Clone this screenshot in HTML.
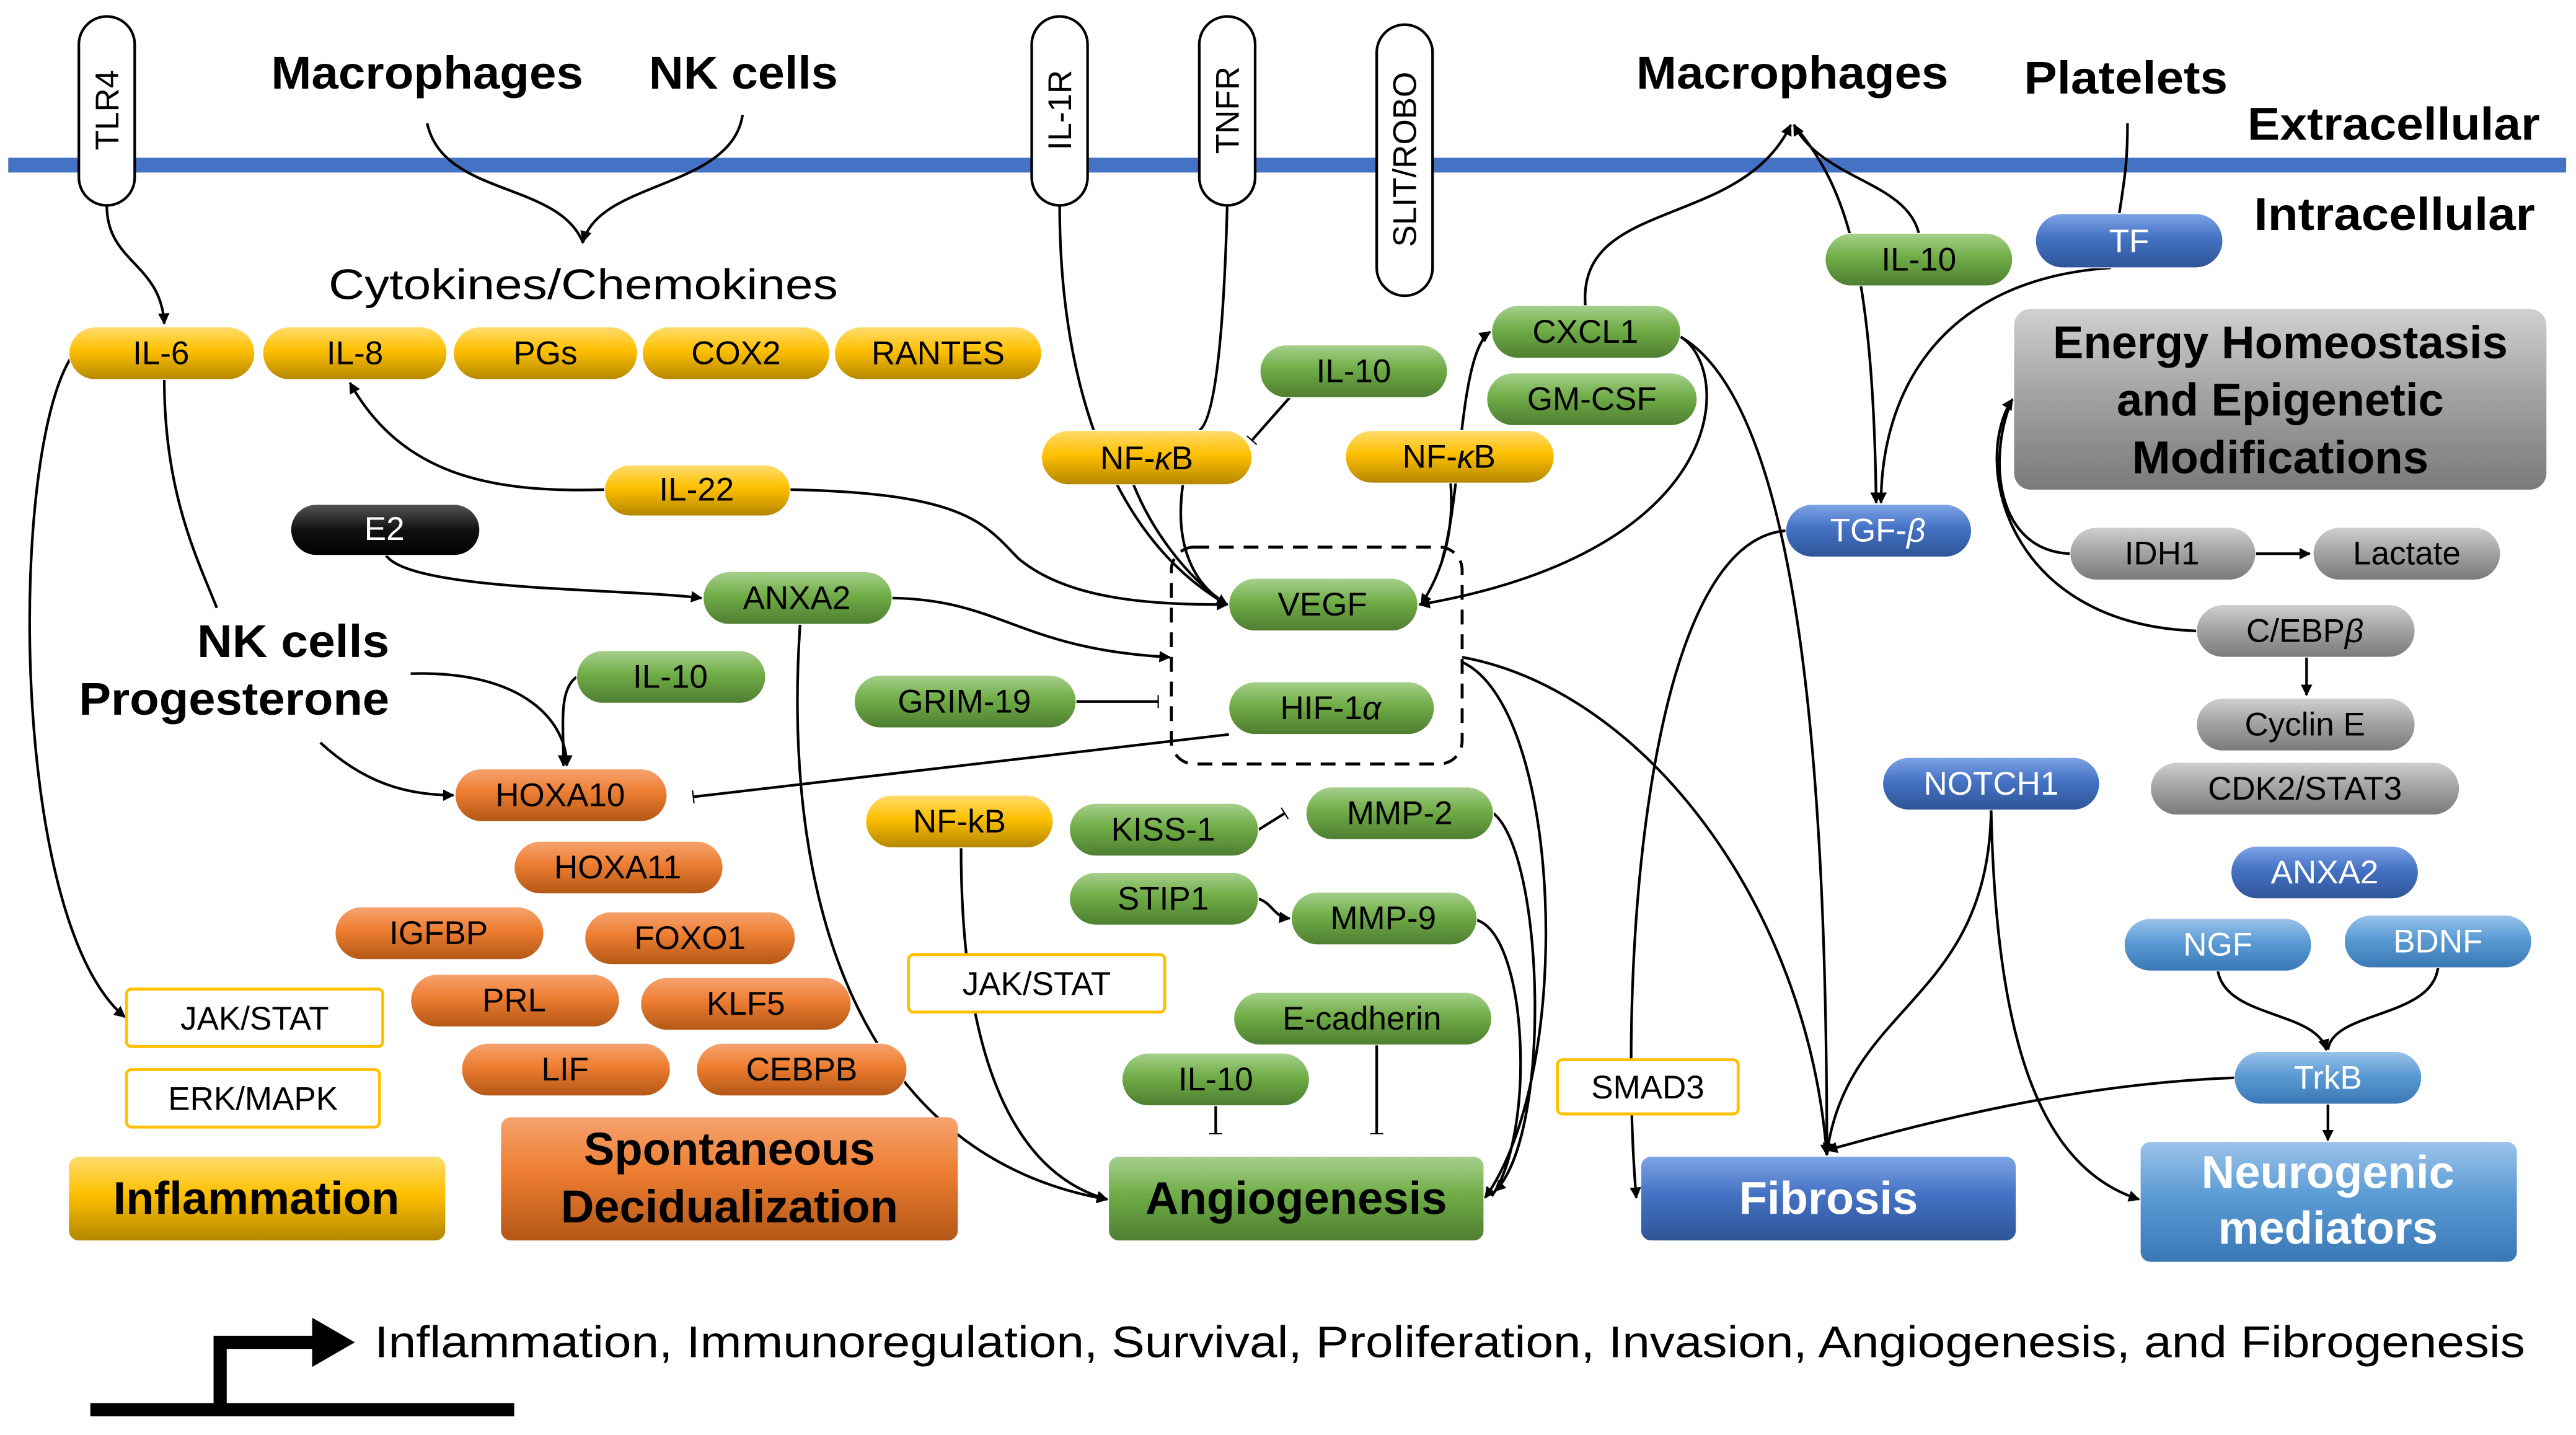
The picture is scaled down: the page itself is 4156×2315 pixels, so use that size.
<!DOCTYPE html>
<html><head><meta charset="utf-8"><style>
html,body{margin:0;padding:0;background:#fff;width:4156px;height:2315px;overflow:hidden}
svg{display:block}
text{font-family:"Liberation Sans",sans-serif}
.p{font-size:20px;text-anchor:middle;dominant-baseline:central}
.b{font-weight:bold;font-size:28px}
.l{fill:none;stroke:#000;stroke-width:1.6}
</style></head><body>
<svg width="4156" height="2315" viewBox="0 0 1568 873.4" xmlns="http://www.w3.org/2000/svg">
<defs>
<linearGradient id="gy" x1="0" y1="0" x2="0" y2="1"><stop offset="0" stop-color="#ffdc6e"/><stop offset=".45" stop-color="#ffc000"/><stop offset="1" stop-color="#b38600"/></linearGradient>
<linearGradient id="gg" x1="0" y1="0" x2="0" y2="1"><stop offset="0" stop-color="#a6d08c"/><stop offset=".45" stop-color="#70ad47"/><stop offset="1" stop-color="#4e7e31"/></linearGradient>
<linearGradient id="go" x1="0" y1="0" x2="0" y2="1"><stop offset="0" stop-color="#f6a36f"/><stop offset=".45" stop-color="#ed7d31"/><stop offset="1" stop-color="#b35716"/></linearGradient>
<linearGradient id="gb" x1="0" y1="0" x2="0" y2="1"><stop offset="0" stop-color="#7fa4e6"/><stop offset=".45" stop-color="#4472c4"/><stop offset="1" stop-color="#2f5597"/></linearGradient>
<linearGradient id="gl" x1="0" y1="0" x2="0" y2="1"><stop offset="0" stop-color="#9cc3ea"/><stop offset=".45" stop-color="#5b9bd5"/><stop offset="1" stop-color="#3a78b5"/></linearGradient>
<linearGradient id="gr" x1="0" y1="0" x2="0" y2="1"><stop offset="0" stop-color="#d0d0d0"/><stop offset=".45" stop-color="#a5a5a5"/><stop offset="1" stop-color="#7a7a7a"/></linearGradient>
<linearGradient id="gk" x1="0" y1="0" x2="0" y2="1"><stop offset="0" stop-color="#555"/><stop offset=".5" stop-color="#111"/><stop offset="1" stop-color="#000"/></linearGradient>
<marker id="a" viewBox="0 0 10 10" refX="9" refY="5" markerWidth="7" markerHeight="7" orient="auto" markerUnits="userSpaceOnUse"><path d="M0,0L10,5L0,10z"/></marker>
<marker id="t" viewBox="0 0 10 20" refX="5" refY="10" markerWidth="4" markerHeight="16" orient="auto" markerUnits="userSpaceOnUse"><path d="M5,0V20" stroke="#000" stroke-width="2"/></marker>
</defs>

<rect x="5" y="96" width="1557" height="9" fill="#4472c4"/>

<g fill="#fff" stroke="#000" stroke-width="1.6">
<rect x="48" y="10" width="34" height="115" rx="17"/>
<rect x="628" y="10" width="34" height="115" rx="17"/>
<rect x="730" y="10" width="34" height="115" rx="17"/>
<rect x="838" y="15" width="34" height="165" rx="17"/>
</g>
<g font-size="20" text-anchor="middle">
<text transform="translate(72,67) rotate(-90)">TLR4</text>
<text transform="translate(652,67) rotate(-90)">IL-1R</text>
<text transform="translate(754,67) rotate(-90)">TNFR</text>
<text transform="translate(862,97) rotate(-90)">SLIT/ROBO</text>
</g>

<text class="b" x="165" y="54" textLength="190" lengthAdjust="spacingAndGlyphs">Macrophages</text>
<text class="b" x="395" y="54" textLength="115" lengthAdjust="spacingAndGlyphs">NK cells</text>
<text class="b" x="996" y="54" textLength="190" lengthAdjust="spacingAndGlyphs">Macrophages</text>
<text class="b" x="1232" y="57" textLength="124" lengthAdjust="spacingAndGlyphs">Platelets</text>
<text class="b" x="1368" y="85" textLength="178" lengthAdjust="spacingAndGlyphs">Extracellular</text>
<text class="b" x="1372" y="140" textLength="171" lengthAdjust="spacingAndGlyphs">Intracellular</text>
<text x="200" y="182" font-size="26" textLength="310" lengthAdjust="spacingAndGlyphs">Cytokines/Chemokines</text>
<text class="b" x="120" y="400" textLength="117" lengthAdjust="spacingAndGlyphs">NK cells</text>
<text class="b" x="48" y="435" textLength="189" lengthAdjust="spacingAndGlyphs">Progesterone</text>

<g class="l">
<path d="M65,125 C65,160 98,160 100,197" marker-end="url(#a)"/>
<path d="M260,75 C270,120 340,110 355,148"/>
<path d="M452,70 C445,115 365,110 355,147" marker-end="url(#a)"/>
<path d="M45,215 C5,270 5,560 76,619" marker-end="url(#a)"/>
<path d="M100,231 C100,300 120,340 132,370"/>
<path d="M368,298 C300,300 245,290 213,233" marker-end="url(#a)"/>
<path d="M481,298 C590,300 600,320 620,340 C650,365 700,368 747,368" marker-end="url(#a)"/>
<path d="M235,338 C250,360 380,358 427,364" marker-end="url(#a)"/>
<path d="M543,364 C610,365 620,395 712,400" marker-end="url(#a)"/>
<path d="M487,380 C475,560 530,705 674,730" marker-end="url(#a)"/>
<path d="M250,410 C320,408 345,440 345,466" marker-end="url(#a)"/>
<path d="M351,412 C340,420 343,440 343,466" marker-end="url(#a)"/>
<path d="M195,452 C220,475 245,484 276,484" marker-end="url(#a)"/>
<path d="M748,447 L422,485" marker-end="url(#t)"/>
<path d="M655,427 L705,427" marker-end="url(#t)"/>
<path d="M645,125 C645,240 680,330 747,368" marker-end="url(#a)"/>
<path d="M747,125 C745,200 740,255 730,262"/>
<path d="M720,295 C715,330 725,355 747,368" marker-end="url(#a)"/>
<path d="M690,295 C700,320 720,350 747,368"/>
<path d="M785,242 L762,268" marker-end="url(#t)"/>
<path d="M878,340 C890,300 888,215 907,202" marker-end="url(#a)"/>
<path d="M883,294 C885,320 880,345 865,368" marker-end="url(#a)"/>
<path d="M1023,205 C1055,225 1055,335 864,368" marker-end="url(#a)"/>
<path d="M1023,205 C1100,250 1112,500 1112,703" marker-end="url(#a)"/>
<path d="M965,186 C960,120 1060,140 1090,76" marker-end="url(#a)"/>
<path d="M1168,142 C1160,110 1110,110 1092,76" marker-end="url(#a)"/>
<path d="M1092,76 C1120,110 1140,150 1142,306" marker-end="url(#a)"/>
<path d="M1295,75 C1295,100 1293,110 1290,130"/>
<path d="M1285,163 C1180,170 1145,240 1145,306" marker-end="url(#a)"/>
<path d="M1087,323 C1000,330 985,600 996,729" marker-end="url(#a)"/>
<path d="M890,400 C1000,420 1100,550 1112,703" marker-end="url(#a)"/>
<path d="M890,403 C950,430 960,650 904,729" marker-end="url(#a)"/>
<path d="M909,495 C940,520 945,690 910,725" marker-end="url(#a)"/>
<path d="M899,560 C930,570 935,690 908,728"/>
<path d="M766,505 L782,495" marker-end="url(#t)"/>
<path d="M766,547 C775,550 775,558 785,559" marker-end="url(#a)"/>
<path d="M838,636 L838,690" marker-end="url(#t)"/>
<path d="M740,673 L740,690" marker-end="url(#t)"/>
<path d="M585,516 C585,650 620,715 674,730" marker-end="url(#a)"/>
<path d="M1212,493 C1210,610 1125,610 1112,702" marker-end="url(#a)"/>
<path d="M1212,493 C1215,630 1240,710 1302,730" marker-end="url(#a)"/>
<path d="M1360,656 C1250,660 1150,690 1112,700" marker-end="url(#a)"/>
<path d="M1350,591 C1355,620 1410,615 1416,639" marker-end="url(#a)"/>
<path d="M1484,589 C1480,620 1420,615 1417,639"/>
<path d="M1417,672 L1417,694" marker-end="url(#a)"/>
<path d="M1337,384 C1220,380 1200,280 1225,243" marker-end="url(#a)"/>
<path d="M1260,337 C1215,335 1210,280 1224,245"/>
<path d="M1373,337 L1406,337" marker-end="url(#a)"/>
<path d="M1404,400 L1404,423" marker-end="url(#a)"/>
</g>
<rect x="713" y="333" width="177" height="132" rx="14" fill="none" stroke="#000" stroke-width="1.8" stroke-dasharray="9,6"/>

<g stroke="#fff" stroke-width="0.5">
<rect x="42" y="199" width="113" height="32" rx="16" fill="url(#gy)"/>
<rect x="160" y="199" width="112" height="32" rx="16" fill="url(#gy)"/>
<rect x="276" y="199" width="112" height="32" rx="16" fill="url(#gy)"/>
<rect x="391" y="199" width="114" height="32" rx="16" fill="url(#gy)"/>
<rect x="508" y="199" width="126" height="32" rx="16" fill="url(#gy)"/>
<rect x="368" y="283" width="113" height="31" rx="15.5" fill="url(#gy)"/>
<rect x="177" y="307" width="115" height="31" rx="15.5" fill="url(#gk)"/>
<rect x="428" y="348" width="115" height="32" rx="16" fill="url(#gg)"/>
<rect x="351" y="396" width="115" height="32" rx="16" fill="url(#gg)"/>
<rect x="277" y="468" width="129" height="32" rx="16" fill="url(#go)"/>
<rect x="313" y="512" width="127" height="32" rx="16" fill="url(#go)"/>
<rect x="204" y="552" width="127" height="32" rx="16" fill="url(#go)"/>
<rect x="356" y="555" width="128" height="32" rx="16" fill="url(#go)"/>
<rect x="250" y="593" width="127" height="32" rx="16" fill="url(#go)"/>
<rect x="390" y="595" width="128" height="32" rx="16" fill="url(#go)"/>
<rect x="281" y="635" width="127" height="32" rx="16" fill="url(#go)"/>
<rect x="424" y="635" width="128" height="32" rx="16" fill="url(#go)"/>
<rect x="520" y="411" width="135" height="32" rx="16" fill="url(#gg)"/>
<rect x="634" y="262" width="128" height="33" rx="16.5" fill="url(#gy)"/>
<rect x="767" y="210" width="114" height="32" rx="16" fill="url(#gg)"/>
<rect x="748" y="352" width="115" height="32" rx="16" fill="url(#gg)"/>
<rect x="748" y="415" width="125" height="32" rx="16" fill="url(#gg)"/>
<rect x="908" y="186" width="115" height="32" rx="16" fill="url(#gg)"/>
<rect x="905" y="227" width="128" height="32" rx="16" fill="url(#gg)"/>
<rect x="819" y="262" width="127" height="32" rx="16" fill="url(#gy)"/>
<rect x="527" y="484" width="114" height="32" rx="16" fill="url(#gy)"/>
<rect x="651" y="489" width="115" height="32" rx="16" fill="url(#gg)"/>
<rect x="795" y="479" width="114" height="32" rx="16" fill="url(#gg)"/>
<rect x="651" y="531" width="115" height="32" rx="16" fill="url(#gg)"/>
<rect x="786" y="543" width="113" height="32" rx="16" fill="url(#gg)"/>
<rect x="751" y="604" width="157" height="32" rx="16" fill="url(#gg)"/>
<rect x="683" y="641" width="114" height="32" rx="16" fill="url(#gg)"/>
<rect x="1111" y="142" width="114" height="32" rx="16" fill="url(#gg)"/>
<rect x="1239" y="130" width="114" height="33" rx="16.5" fill="url(#gb)"/>
<rect x="1087" y="307" width="113" height="32" rx="16" fill="url(#gb)"/>
<rect x="1260" y="321" width="113" height="32" rx="16" fill="url(#gr)"/>
<rect x="1408" y="321" width="114" height="32" rx="16" fill="url(#gr)"/>
<rect x="1337" y="368" width="133" height="32" rx="16" fill="url(#gr)"/>
<rect x="1337" y="425" width="133" height="32" rx="16" fill="url(#gr)"/>
<rect x="1309" y="464" width="188" height="32" rx="16" fill="url(#gr)"/>
<rect x="1146" y="461" width="132" height="32" rx="16" fill="url(#gb)"/>
<rect x="1358" y="515" width="114" height="32" rx="16" fill="url(#gb)"/>
<rect x="1293" y="559" width="114" height="32" rx="16" fill="url(#gl)"/>
<rect x="1427" y="557" width="114" height="32" rx="16" fill="url(#gl)"/>
<rect x="1360" y="640" width="114" height="32" rx="16" fill="url(#gl)"/>
</g>
<g class="p">
<text x="98" y="215">IL-6</text><text x="216" y="215">IL-8</text><text x="332" y="215">PGs</text><text x="448" y="215">COX2</text><text x="571" y="215">RANTES</text>
<text x="424" y="298">IL-22</text><text x="234" y="322" fill="#fff">E2</text><text x="485" y="364">ANXA2</text><text x="408" y="412">IL-10</text>
<text x="341" y="484">HOXA10</text><text x="376" y="528">HOXA11</text><text x="267" y="568">IGFBP</text><text x="420" y="571">FOXO1</text>
<text x="313" y="609">PRL</text><text x="454" y="611">KLF5</text><text x="344" y="651">LIF</text><text x="488" y="651">CEBPB</text>
<text x="587" y="427">GRIM-19</text><text x="698" y="279">NF-<tspan font-style="italic">κ</tspan>B</text><text x="824" y="226">IL-10</text>
<text x="805" y="368">VEGF</text><text x="810" y="431">HIF-1<tspan font-style="italic">α</tspan></text>
<text x="965" y="202">CXCL1</text><text x="969" y="243">GM-CSF</text><text x="882" y="278">NF-<tspan font-style="italic">κ</tspan>B</text>
<text x="584" y="500">NF-kB</text><text x="708" y="505">KISS-1</text><text x="852" y="495">MMP-2</text><text x="708" y="547">STIP1</text><text x="842" y="559">MMP-9</text>
<text x="829" y="620">E-cadherin</text><text x="740" y="657">IL-10</text>
<text x="1168" y="158">IL-10</text><text x="1296" y="147" fill="#fff">TF</text><text x="1143" y="323" fill="#fff">TGF-<tspan font-style="italic">β</tspan></text>
<text x="1316" y="337">IDH1</text><text x="1465" y="337">Lactate</text><text x="1403" y="384">C/EBP<tspan font-style="italic">β</tspan></text>
<text x="1403" y="441">Cyclin E</text><text x="1403" y="480">CDK2/STAT3</text><text x="1212" y="477" fill="#fff">NOTCH1</text>
<text x="1415" y="531" fill="#fff">ANXA2</text><text x="1350" y="575" fill="#fff">NGF</text><text x="1484" y="573" fill="#fff">BDNF</text><text x="1417" y="656" fill="#fff">TrkB</text>
</g>

<g fill="#fff" stroke="#ffc000" stroke-width="1.8">
<rect x="77" y="602" width="156" height="35" rx="3"/>
<rect x="77" y="651" width="154" height="35" rx="3"/>
<rect x="553" y="581" width="156" height="35" rx="3"/>
<rect x="948" y="645" width="110" height="33" rx="3"/>
</g>
<g class="p">
<text x="155" y="620">JAK/STAT</text><text x="154" y="669">ERK/MAPK</text><text x="631" y="599">JAK/STAT</text><text x="1003" y="662">SMAD3</text>
</g>

<rect x="42" y="704" width="229" height="51" rx="6" fill="url(#gy)"/>
<rect x="305" y="680" width="278" height="75" rx="6" fill="url(#go)"/>
<rect x="675" y="704" width="228" height="51" rx="6" fill="url(#gg)"/>
<rect x="999" y="704" width="228" height="51" rx="6" fill="url(#gb)"/>
<rect x="1303" y="695" width="229" height="73" rx="6" fill="url(#gl)"/>
<rect x="1226" y="188" width="324" height="110" rx="10" fill="url(#gr)"/>
<g font-weight="bold" font-size="28" text-anchor="middle">
<text x="156" y="739">Inflammation</text>
<text x="444" y="709">Spontaneous</text><text x="444" y="744">Decidualization</text>
<text x="789" y="739">Angiogenesis</text>
<text x="1113" y="739" fill="#fff">Fibrosis</text>
<text x="1417" y="723" fill="#fff">Neurogenic</text><text x="1417" y="757" fill="#fff">mediators</text>
<text x="1388" y="218">Energy Homeostasis</text><text x="1388" y="253">and Epigenetic</text><text x="1388" y="288">Modifications</text>
</g>

<path d="M55,858 H313 M134,858 V817 H192" stroke="#000" stroke-width="8" fill="none"/>
<path d="M190,802 L216,817 L190,832z"/>
<text x="228" y="826" font-size="27" textLength="1309" lengthAdjust="spacingAndGlyphs">Inflammation, Immunoregulation, Survival, Proliferation, Invasion, Angiogenesis, and Fibrogenesis</text>
</svg>
</body></html>
